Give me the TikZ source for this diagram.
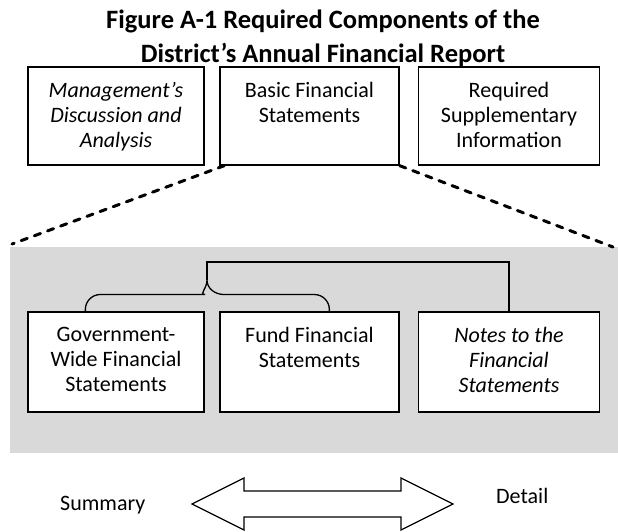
\documentclass[tikz,border=0pt]{standalone}
\usepackage{fontspec}
\setmainfont{Carlito}
\usetikzlibrary{positioning}

\begin{document}
\begin{tikzpicture}[x=1pt,y=1pt]
        \tikzstyle{every node}+=[inner sep=0pt]
        \tikzstyle{panel}=[draw=black, line width=1.3pt, fill=white]
        \tikzstyle{caption}=[align=center, font=\fontsize{22}{25}\selectfont]
        \tikzstyle{link}=[black, line width=1.3pt]
        \tikzstyle{fan}=[black, line width=3pt, line cap=round, dash pattern=on 6.5pt off 7.5pt]
        \useasboundingbox (0,0) rectangle (618,-531);
        % title
        \node[font=\fontsize{26.5}{34}\selectfont\bfseries, align=center, anchor=north] (head) at (323,-9.5) {Figure A-1 Required Components of the\\District’s Annual Financial Report};
        % the three parts of the report
        \node[panel, minimum width=176pt, minimum height=98pt] (mda) at (116,-116) {};
        \node[panel, minimum width=179pt, minimum height=98pt] (bfs) at (309.5,-116) {};
        \node[panel, minimum width=181pt, minimum height=98pt] (rsi) at (509,-116) {};
        \node[caption, font=\fontsize{22}{25}\selectfont\itshape, below=16pt of mda.north] (mdaText) {Management’s\\Discussion and\\Analysis};
        \node[caption, below=16pt of bfs.north] (bfsText) {Basic Financial\\Statements};
        \node[caption, below=16pt of rsi.north] (rsiText) {Required\\Supplementary\\Information};
        % shaded detail area
        \coordinate (fanL) at (12,-244);
        \coordinate (fanR) at (613,-247);
        \fill[black!15] (10,-247) rectangle (618,-453);
        \draw[fan] ([xshift=5pt]bfs.south west) -- (fanL);
        \draw[fan] (bfs.south east) -- (fanR);
        % statements
        \node[panel, minimum width=176pt, minimum height=100pt] (gwfs) at (116,-362) {};
        \node[panel, minimum width=179pt, minimum height=100pt] (ffs) at (309.5,-362) {};
        \node[panel, minimum width=181pt, minimum height=100pt] (notes) at (509,-362) {};
        \node[caption, below=16pt of gwfs.north] (gwfsText) {Government-\\Wide Financial\\Statements};
        \node[caption, below=16pt of ffs.north] (ffsText) {Fund Financial\\Statements};
        \node[caption, font=\fontsize{22}{25}\selectfont\itshape, below=16pt of notes.north] (notesText) {Notes to the\\Financial\\Statements};
        % brace and link to the notes
        \coordinate (tip) at (207,-280);
        \draw[link] ([xshift=58pt]gwfs.north west) [rounded corners=15pt] |- ([xshift=-17pt,yshift=-14.5pt]tip) [sharp corners] to[out=0,in=-90] (tip) to[out=-90,in=180] ([xshift=17pt,yshift=-14.5pt]tip) [rounded corners=15pt] -| ([xshift=110pt]ffs.north west);
        \draw[link] (tip) -- ++(0,18) coordinate (hub) -| (notes.north);
        % summary -- detail scale
        \node[caption, anchor=base west] (summary) at (60,-510) {Summary};
        \node[caption, anchor=base west] (detail) at (496,-503) {Detail};
        \coordinate (scalemid) at (322.5,-504);
        \draw[link, fill=white] (scalemid) ++(-130.5,0) -- ++(52,26) -- ++(0,-13) -- ++(157,0) -- ++(0,13) -- ++(52,-26) -- ++(-52,-26) -- ++(0,13) -- ++(-157,0) -- ++(0,-13) -- cycle;
\end{tikzpicture}
\end{document}
